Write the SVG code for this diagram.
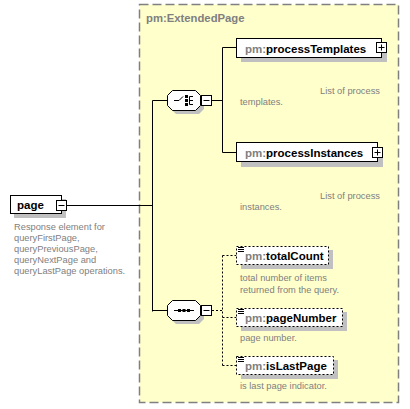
<svg xmlns="http://www.w3.org/2000/svg" width="410" height="409" viewBox="0 0 410 409">
<style>
.box{fill:#fff;stroke:#000;stroke-width:1}
.dbox{fill:#fff;stroke:#000;stroke-width:1;stroke-dasharray:2,2}
.sh{fill:#c0c0c0}
.lbl{font-family:"Liberation Sans",Arial,sans-serif;font-weight:bold;font-size:11.5px;fill:#000}
.pm{fill:#808080}
.desc{font-family:"Liberation Sans",Arial,sans-serif;font-size:9.3px;fill:#808080}
.ln{stroke:#000;stroke-width:1;fill:none}
.dl{stroke:#000;stroke-width:1;fill:none;stroke-dasharray:2,2}
</style>
<rect width="410" height="409" fill="#fff"/>
<g id="ExtendedPage">
<rect x="139.5" y="4.5" width="259" height="398" fill="#ffffcc" stroke="#808080" stroke-dasharray="9,4" stroke-width="1.5"/>
<text x="146" y="22" font-family="Liberation Sans,Arial,sans-serif" font-weight="bold" font-size="11.3px" fill="#808080">pm:ExtendedPage</text>
</g>
<g id="connectors">
<path class="ln" d="M67,205.5 H152.5 M152.5,100.5 V311.5 M152.5,100.5 H167 M152.5,310.5 H167"/>
<path class="ln" d="M212,100.5 H222.5 M222.5,47.5 V152.5 M222.5,47.5 H237 M222.5,152.5 H237"/>
<path class="dl" d="M212,310.5 H222.5 M222.5,255.5 V365.5 M222.5,255.5 H237 M222.5,317.5 H237 M222.5,365.5 H237"/>
</g>
<g id="page">
<rect class="sh" x="14" y="199" width="52" height="19"/>
<rect class="box" x="10.5" y="195.5" width="51" height="18"/>
<text class="lbl" x="17" y="209">page</text>
<rect class="box" x="56.5" y="200.5" width="10" height="10"/>
<path class="ln" d="M58.5,205.5 H64.5"/>
<text class="desc" x="14" y="230">Response element for</text>
<text class="desc" x="14" y="241">queryFirstPage,</text>
<text class="desc" x="14" y="252">queryPreviousPage,</text>
<text class="desc" x="14" y="263">queryNextPage and</text>
<text class="desc" x="14" y="274">queryLastPage operations.</text>
</g>
<g id="choice">
<path class="sh" d="M176,94 H199 L204,99 V109 L199,114 H176 L171,109 V99 Z"/>
<path fill="#fff" stroke="#000" d="M172.5,90.5 H195.5 L200.5,95.5 V105.5 L195.5,110.5 H172.5 L167.5,105.5 V95.5 Z"/>
<path class="ln" d="M174,100.5 H179 L183,96.5 M189.5,96.5 V104.5 M189.5,96.5 H193 M189.5,100.5 H193 M189.5,104.5 H193"/>
<rect x="185" y="95" width="3" height="3" fill="#000"/>
<rect x="185" y="99" width="3" height="3" fill="#000"/>
<rect x="185" y="103" width="3" height="3" fill="#000"/>
<rect class="box" x="201.5" y="95.5" width="10" height="10"/>
<path class="ln" d="M203.5,100.5 H209.5"/>
</g>
<g id="processTemplates">
<rect class="sh" x="241" y="42" width="146" height="20"/>
<rect class="box" x="236.5" y="38.5" width="145" height="19"/>
<text class="lbl" x="245" y="52.5"><tspan class="pm">pm:</tspan>processTemplates</text>
<rect class="box" x="376.5" y="42.5" width="10" height="10"/>
<path class="ln" d="M378.5,47.5 H384.5 M381.5,44.5 V50.5"/>
<text class="desc" x="320" y="94">List of process</text>
<text class="desc" x="240" y="105">templates.</text>
</g>
<g id="processInstances">
<rect class="sh" x="241" y="147" width="142" height="20"/>
<rect class="box" x="236.5" y="142.5" width="141" height="19"/>
<text class="lbl" x="245" y="156.5"><tspan class="pm">pm:</tspan>processInstances</text>
<rect class="box" x="372.5" y="147.5" width="10" height="10"/>
<path class="ln" d="M374.5,152.5 H380.5 M377.5,149.5 V155.5"/>
<text class="desc" x="320" y="199">List of process</text>
<text class="desc" x="240" y="210">instances.</text>
</g>
<g id="sequence">
<path class="sh" d="M176,304 H199 L204,309 V319 L199,324 H176 L171,319 V309 Z"/>
<path fill="#fff" stroke="#000" d="M172.5,300.5 H195.5 L200.5,305.5 V315.5 L195.5,320.5 H172.5 L167.5,315.5 V305.5 Z"/>
<path class="ln" d="M174,310.5 H194"/>
<rect x="178" y="309" width="3" height="3" fill="#000"/>
<rect x="182.5" y="309" width="3" height="3" fill="#000"/>
<rect x="187" y="309" width="3" height="3" fill="#000"/>
<rect class="box" x="201.5" y="305.5" width="10" height="10"/>
<path class="ln" d="M203.5,310.5 H209.5"/>
</g>
<g id="totalCount">
<rect class="sh" x="241" y="250" width="92" height="19"/>
<rect class="dbox" x="236.5" y="246.5" width="92" height="18"/>
<path class="ln" d="M238,247.5 H244 M238,249.5 H244 M238,251.5 H244"/>
<text class="lbl" x="245" y="260"><tspan class="pm">pm:</tspan>totalCount</text>
<text class="desc" x="240" y="281">total number of items</text>
<text class="desc" x="240" y="292.5">returned from the query.</text>
</g>
<g id="pageNumber">
<rect class="sh" x="241" y="312" width="106" height="19"/>
<rect class="dbox" x="236.5" y="308.5" width="106" height="18"/>
<path class="ln" d="M238,309.5 H244 M238,311.5 H244 M238,313.5 H244"/>
<text class="lbl" x="245" y="322"><tspan class="pm">pm:</tspan>pageNumber</text>
<text class="desc" x="240" y="341">page number.</text>
</g>
<g id="isLastPage">
<rect class="sh" x="241" y="360" width="97" height="19"/>
<rect class="dbox" x="236.5" y="356.5" width="97" height="18"/>
<path class="ln" d="M238,357.5 H244 M238,359.5 H244 M238,361.5 H244"/>
<text class="lbl" x="245" y="370"><tspan class="pm">pm:</tspan>isLastPage</text>
<text class="desc" x="240" y="389">is last page indicator.</text>
</g>
</svg>
